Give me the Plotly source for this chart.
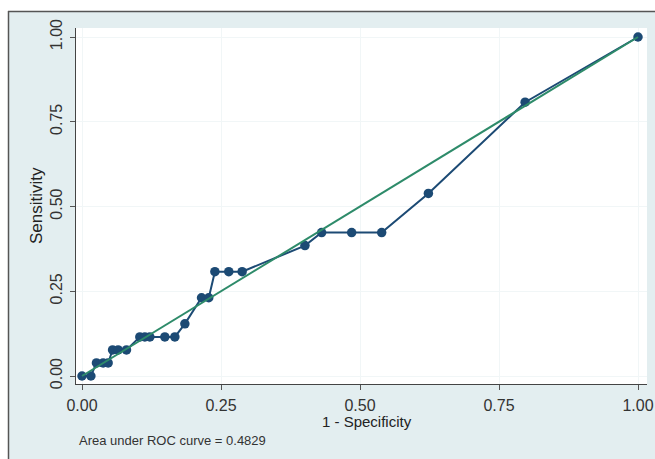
import plotly.graph_objects as go

# ROC curve points (1 - specificity, sensitivity)
fpr = [0.0, 0.016,
       0.026, 0.038, 0.047,
       0.055, 0.065, 0.080,
       0.104, 0.113, 0.122, 0.149, 0.167,
       0.185,
       0.215, 0.228,
       0.239, 0.264, 0.288,
       0.401,
       0.431, 0.485, 0.539,
       0.623,
       0.797,
       1.0]
tpr = [0.0, 0.0,
       0.0385, 0.0385, 0.0385,
       0.0769, 0.0769, 0.0769,
       0.1154, 0.1154, 0.1154, 0.1154, 0.1154,
       0.1538,
       0.2308, 0.2308,
       0.3077, 0.3077, 0.3077,
       0.3846,
       0.4231, 0.4231, 0.4231,
       0.5385,
       0.8077,
       1.0]
ref_x = [0.0, 1.0]
ref_y = [0.0, 1.0]
tick_vals = [0.0, 0.25, 0.5, 0.75, 1.0]
tick_text = ["0.00", "0.25", "0.50", "0.75", "1.00"]
x_title = "1 - Specificity"
y_title = "Sensitivity"
note = "Area under ROC curve = 0.4829"

NAVY = "#1c4a74"
GREEN = "#2e8b6a"
BG = "#e3eef0"
FONT = "Liberation Sans, Arial, sans-serif"

fig = go.Figure()
fig.add_trace(go.Scatter(x=fpr, y=tpr, mode="lines+markers",
                         line=dict(color=NAVY, width=2),
                         marker=dict(color=NAVY, size=9.5),
                         showlegend=False, cliponaxis=False))
fig.add_trace(go.Scatter(x=ref_x, y=ref_y, mode="lines",
                         line=dict(color=GREEN, width=2),
                         showlegend=False))

W, H = 655, 459
L, R, T, B = 76, 647, 28, 384
pw, ph = R - L, B - T


def px(x):
    return (x - L) / pw


def py(y):
    return (B - y) / ph


fig.update_layout(
    width=W, height=H,
    margin=dict(l=L, r=W - R, t=T, b=H - B, pad=0, autoexpand=False),
    paper_bgcolor=BG, plot_bgcolor="white",
    font=dict(family=FONT, color="#222222", size=15),
    xaxis=dict(range=[-(82 - L) / 556, (R - 82) / 556],
               tickvals=tick_vals, ticktext=tick_text,
               ticks="outside", ticklen=5, tickcolor="#555555",
               showline=True, linecolor="#444444", linewidth=1,
               showgrid=True, gridcolor="#f1f6f7", zeroline=False,
               tickfont=dict(size=16, color="#333333"),
               ticklabelstandoff=2, automargin=False),
    yaxis=dict(range=[-(B - 376) / 339, 1 + (37 - T) / 339],
               tickvals=tick_vals, ticktext=tick_text,
               ticks="outside", ticklen=5, tickcolor="#555555",
               showline=True, linecolor="#444444", linewidth=1,
               showgrid=True, gridcolor="#f1f6f7", zeroline=False,
               tickangle=-90,
               tickfont=dict(size=16, color="#333333"),
               ticklabelstandoff=2, automargin=False),
    annotations=[
        dict(text=x_title, xref="paper", yref="paper",
             x=px(367), y=py(421), xanchor="center", yanchor="middle",
             showarrow=False, font=dict(size=15, color="#222222")),
        dict(text=y_title, xref="paper", yref="paper",
             x=px(36), y=py(206), xanchor="center", yanchor="middle",
             textangle=-90, showarrow=False,
             font=dict(size=17, color="#222222")),
        dict(text=note, xref="paper", yref="paper",
             x=px(77), y=py(440), xanchor="left", yanchor="middle",
             showarrow=False, font=dict(size=13, color="#333333")),
    ],
    shapes=[
        dict(type="rect", xref="paper", yref="paper",
             x0=px(-5), x1=px(W + 5), y0=py(11), y1=py(-5),
             fillcolor="white", line=dict(width=0), layer="above"),
        dict(type="rect", xref="paper", yref="paper",
             x0=px(-5), x1=px(8), y0=py(H + 5), y1=py(-5),
             fillcolor="white", line=dict(width=0), layer="above"),
        dict(type="line", xref="paper", yref="paper",
             x0=px(8), x1=px(W + 5), y0=py(11.5), y1=py(11.5),
             line=dict(color="#555555", width=1.5), layer="above"),
        dict(type="line", xref="paper", yref="paper",
             x0=px(8.5), x1=px(8.5), y0=py(11), y1=py(H + 5),
             line=dict(color="#555555", width=1.5), layer="above"),
    ],
)

fig.write_html(
    "out.html",
    config={"displayModeBar": False},
    post_script="document.body.style.margin='0';"
                "document.body.style.overflow='hidden';",
)
